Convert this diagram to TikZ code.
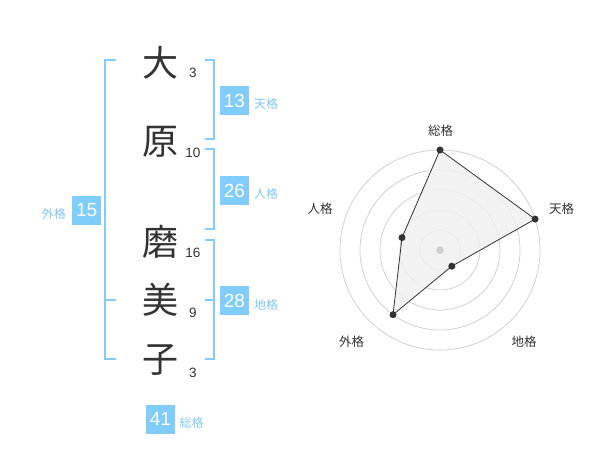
\documentclass[tikz,border=0pt]{standalone}
\usepackage{fontspec}
\setmainfont{Liberation Sans}
\newfontfamily\jp{Noto Sans CJK JP}
\definecolor{skyb}{RGB}{128,204,250}
\definecolor{skyl}{RGB}{130,200,245}
\definecolor{ink}{RGB}{51,51,51}
\definecolor{ringc}{RGB}{205,205,205}
\definecolor{polyf}{RGB}{240,240,240}
\tikzset{
  bigchar/.style={font=\jp\fontsize{36}{36}\selectfont, text=ink, inner sep=0pt},
  strokes/.style={font=\fontsize{13.5}{13.5}\selectfont, text=ink, inner sep=0pt},
  brk/.style={draw=skyb, line width=1.6pt},
  valbox/.style={fill=skyb, text=white, minimum width=29pt, minimum height=29pt, inner sep=0pt, font=\fontsize{19}{19}\selectfont},
  kakulab/.style={text=skyl, inner sep=0pt, font=\jp\fontsize{12}{12}\selectfont},
  ring/.style={draw=ringc, line width=0.7pt},
  radlab/.style={text=ink, inner sep=0pt, font=\jp\fontsize{12.5}{12.5}\selectfont},
  dot/.style={circle, fill=ink, minimum size=7pt, inner sep=0pt}
}
\begin{document}
\begin{tikzpicture}[x=1pt,y=-1pt]
\fill[white] (0,0) rectangle (600,470);
\useasboundingbox (0,0) rectangle (600,470);
% name characters
\node[bigchar] (c1) at (160,63) {大};
\node[bigchar] (c2) at (160,142) {原};
\node[bigchar] (c3) at (160,242) {磨};
\node[bigchar] (c4) at (160,300) {美};
\node[bigchar] (c5) at (160,360) {子};
\node[strokes] (s1) at (193,73) {3};
\node[strokes] (s2) at (193,153) {10};
\node[strokes] (s3) at (193,253) {16};
\node[strokes] (s4) at (193,313) {9};
\node[strokes] (s5) at (193,373) {3};
% brackets
\draw[brk] (205,60) -- (214,60) -- (214,139) -- (205,139);
\draw[brk] (205,149) -- (214,149) -- (214,229) -- (205,229);
\draw[brk] (205,240) -- (214,240) -- (214,359) -- (205,359);
\draw[brk] (205,300) -- (214,300);
\draw[brk] (116,60) -- (105,60) -- (105,359) -- (116,359);
\draw[brk] (105,300) -- (116,300);
% value boxes
\node[valbox] (v13) at (234.5,100.5) {13};
\node[valbox] (v26) at (234.5,190.5) {26};
\node[valbox] (v28) at (234.5,300.5) {28};
\node[valbox] (v15) at (86.7,210.5) {15};
\node[valbox] (v41) at (160.5,419) {41};
\node[kakulab, anchor=west] (l13) at (254,104) {天格};
\node[kakulab, anchor=west] (l26) at (254,194) {人格};
\node[kakulab, anchor=west] (l28) at (254,305) {地格};
\node[kakulab, anchor=east] (l15) at (66,213.5) {外格};
\node[kakulab, anchor=west] (l41) at (179.5,423) {総格};
% radar
\coordinate (ctr) at (440,250);
\foreach \r in {20,40,60,80,100} \draw[ring] (ctr) circle[radius=\r pt];
\coordinate (pS) at (440,150);
\coordinate (pT) at (535.1,219.1);
\coordinate (pC) at (451.8,266.2);
\coordinate (pG) at (393,314.7);
\coordinate (pJ) at (402,237.6);
\fill[polyf, fill opacity=0.85] (pS) -- (pT) -- (pC) -- (pG) -- (pJ) -- cycle;
\fill[ringc] (ctr) circle[radius=3.8pt];
\draw[ink, line width=0.8pt] (pS) -- (pT) -- (pC) -- (pG) -- (pJ) -- cycle;
\foreach \p in {pS,pT,pC,pG,pJ} \node[dot] at (\p) {};
\node[radlab] (rS) at (440.7,130.7) {総格};
\node[radlab] (rT) at (561.7,208.3) {天格};
\node[radlab] (rC) at (524,341.7) {地格};
\node[radlab] (rG) at (351.7,341.7) {外格};
\node[radlab] (rJ) at (320,208.3) {人格};
\end{tikzpicture}
\end{document}
